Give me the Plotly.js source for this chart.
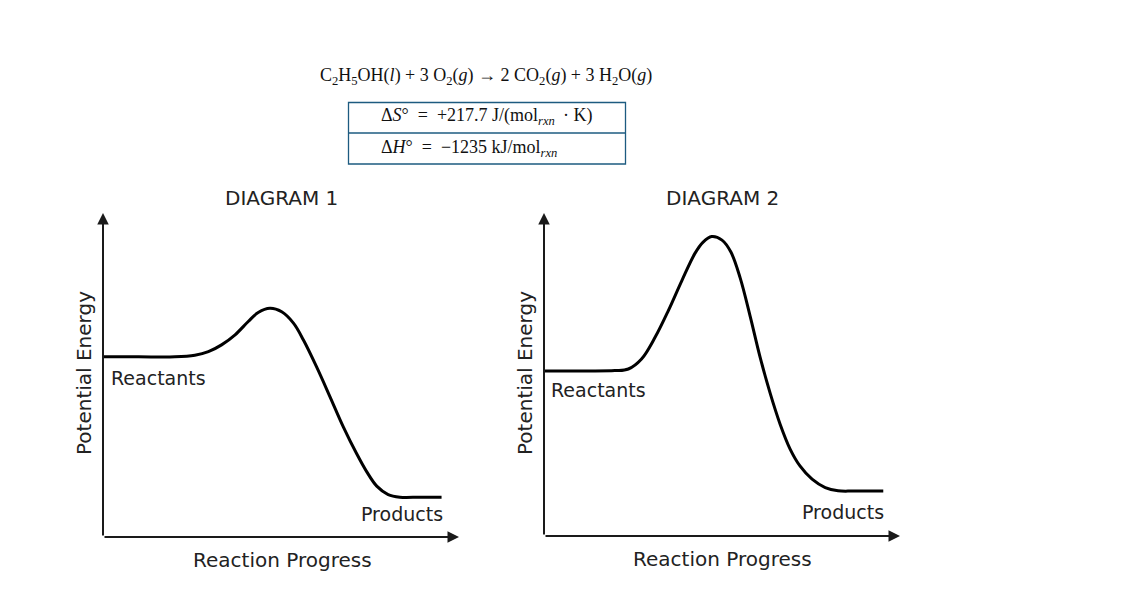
<!DOCTYPE html>
<html>
<head>
<meta charset="utf-8">
<script src="https://cdn.plot.ly/plotly-3.0.1.min.js"></script>
<style>
  html, body { margin: 0; padding: 0; background: #fff; }
  #chart { width: 1147px; height: 595px; }
</style>
</head>
<body>
<div id="chart"></div>
<script>
// ---- data ----
const diagramTitles = ["DIAGRAM 1", "DIAGRAM 2"];
const xAxisTitle = "Reaction Progress";
const yAxisTitle = "Potential Energy";
const reactantsLabel = "Reactants";
const productsLabel = "Products";

const d1Progress = [0, 10, 20.2, 25.8, 29.6, 33.3, 37.1, 40.8, 43.6, 46.9, 50.2, 53.5, 56.3, 60.0, 63.8, 67.5, 71.3, 74.1, 76.9, 80.1, 83.4, 89, 95.1];
const d1Energy   = [55.6, 55.6, 55.6, 56.1, 57.2, 59.3, 62.4, 66.5, 69.3, 70.6, 69.5, 66.0, 60.8, 52.5, 43.2, 34.0, 25.6, 20.1, 15.7, 13.1, 12.3, 12.3, 12.3];

const d2Progress = [0, 10, 19.9, 23.7, 27.4, 31.2, 34.9, 38.7, 42.4, 44.7, 47.1, 50.0, 52.5, 55.1, 57.9, 60.7, 63.5, 66.3, 69.1, 71.9, 75.3, 79.0, 82.6, 86.5, 90.5, 95.3];
const d2Energy   = [51.1, 51.1, 51.2, 51.7, 54.8, 61.5, 69.7, 79.0, 87.5, 91.0, 92.7, 91.6, 87.9, 79.9, 68.1, 55.4, 44.3, 34.7, 27.0, 21.7, 17.6, 15.0, 14.0, 13.9, 13.9, 13.9];

const equationText = "C<sub>2</sub>H<sub>5</sub>OH(<i>l</i>) + 3 O<sub>2</sub>(<i>g</i>) → 2 CO<sub>2</sub>(<i>g</i>) + 3 H<sub>2</sub>O(<i>g</i>)";
const entropyText = "Δ<i>S</i>°\u00a0 = \u00a0+217.7 J/(mol<sub><i>rxn</i></sub>\u2009 · K)";
const enthalpyText = "Δ<i>H</i>°\u00a0 = \u00a0−1235 kJ/mol<sub><i>rxn</i></sub>";

// ---- layout helpers ----
const W = 1147, H = 595;
const px = v => v / W;
const py = v => 1 - v / H;

const sansFont = "DejaVu Sans, Liberation Sans, Arial, sans-serif";
const serifFont = "Liberation Serif, DejaVu Serif, serif";
const textColor = "#222222";
const boxColor = "#1d5b80";

const curveLine = { color: "#000", width: 3, shape: "spline", smoothing: 1 };
const traces = [
  { x: d1Progress, y: d1Energy, xaxis: "x", yaxis: "y", type: "scatter", mode: "lines",
    line: curveLine, hoverinfo: "skip" },
  { x: d2Progress, y: d2Energy, xaxis: "x2", yaxis: "y2", type: "scatter", mode: "lines",
    line: curveLine, hoverinfo: "skip" }
];

const hiddenAxis = (domain, anchor) => ({
  domain: domain, range: [0, 100], anchor: anchor,
  showgrid: false, zeroline: false, showline: false, showticklabels: false, ticks: "",
  fixedrange: true
});

function axisArrows(xr, yr) {
  const common = { text: "", showarrow: true, arrowhead: 2, arrowsize: 1.15, arrowwidth: 2,
    arrowcolor: "#1a1a1a", xref: xr, yref: yr, axref: xr, ayref: yr, standoff: 0, startstandoff: 0 };
  return [
    Object.assign({}, common, { x: 0, y: 100, ax: 0, ay: 0 }),
    Object.assign({}, common, { x: 100, y: 0, ax: 0, ay: 0 })
  ];
}

const labelFont = { family: sansFont, size: 19, color: textColor };
const titleFont = { family: sansFont, size: 20, color: textColor };
const mathFont = { family: serifFont, size: 18, color: "#111" };

const annotations = [
  ...axisArrows("x", "y"),
  ...axisArrows("x2", "y2"),
  // diagram titles
  { text: diagramTitles[0], xref: "paper", yref: "paper", x: px(281), y: py(198), showarrow: false,
    xanchor: "center", yanchor: "middle", font: titleFont },
  { text: diagramTitles[1], xref: "paper", yref: "paper", x: px(722), y: py(198), showarrow: false,
    xanchor: "center", yanchor: "middle", font: titleFont },
  // axis titles
  { text: xAxisTitle, xref: "paper", yref: "paper", x: px(282), y: py(560), showarrow: false,
    xanchor: "center", yanchor: "middle", font: titleFont },
  { text: xAxisTitle, xref: "paper", yref: "paper", x: px(722), y: py(559), showarrow: false,
    xanchor: "center", yanchor: "middle", font: titleFont },
  { text: yAxisTitle, xref: "paper", yref: "paper", x: px(84), y: py(373), showarrow: false,
    textangle: -90, xanchor: "center", yanchor: "middle", font: titleFont },
  { text: yAxisTitle, xref: "paper", yref: "paper", x: px(525), y: py(373), showarrow: false,
    textangle: -90, xanchor: "center", yanchor: "middle", font: titleFont },
  // curve labels
  { text: reactantsLabel, xref: "x", yref: "y", x: 1.6, y: 49.1, showarrow: false,
    xanchor: "left", yanchor: "middle", font: labelFont },
  { text: productsLabel, xref: "x", yref: "y", x: 96.2, y: 7.1, showarrow: false,
    xanchor: "right", yanchor: "middle", font: labelFont },
  { text: reactantsLabel, xref: "x2", yref: "y2", x: 1.4, y: 45.2, showarrow: false,
    xanchor: "left", yanchor: "middle", font: labelFont },
  { text: productsLabel, xref: "x2", yref: "y2", x: 96.0, y: 7.5, showarrow: false,
    xanchor: "right", yanchor: "middle", font: labelFont },
  // equation and thermodynamic box
  { text: equationText, xref: "paper", yref: "paper", x: px(486), y: py(77), showarrow: false,
    xanchor: "center", yanchor: "middle", font: mathFont },
  { text: entropyText, xref: "paper", yref: "paper", x: px(379), y: py(117), showarrow: false,
    xanchor: "left", yanchor: "middle", font: mathFont },
  { text: enthalpyText, xref: "paper", yref: "paper", x: px(379), y: py(148), showarrow: false,
    xanchor: "left", yanchor: "middle", font: mathFont }
];

const shapes = [
  { type: "rect", xref: "paper", yref: "paper", x0: px(348.5), x1: px(625.5), y0: py(102.5), y1: py(164),
    line: { color: boxColor, width: 1.3 }, fillcolor: "rgba(0,0,0,0)" },
  { type: "line", xref: "paper", yref: "paper", x0: px(348.5), x1: px(625.5), y0: py(133), y1: py(133),
    line: { color: boxColor, width: 1.3 } }
];

const layout = {
  width: W, height: H,
  margin: { l: 0, r: 0, t: 0, b: 0, pad: 0 },
  paper_bgcolor: "#ffffff", plot_bgcolor: "#ffffff",
  showlegend: false,
  xaxis: hiddenAxis([px(103), px(459)], "y"),
  yaxis: hiddenAxis([py(537), py(213)], "x"),
  xaxis2: hiddenAxis([px(544), px(900)], "y2"),
  yaxis2: hiddenAxis([py(536), py(213)], "x2"),
  annotations: annotations,
  shapes: shapes
};

Plotly.newPlot("chart", traces, layout, { displayModeBar: false, staticPlot: true });
</script>
</body>
</html>
